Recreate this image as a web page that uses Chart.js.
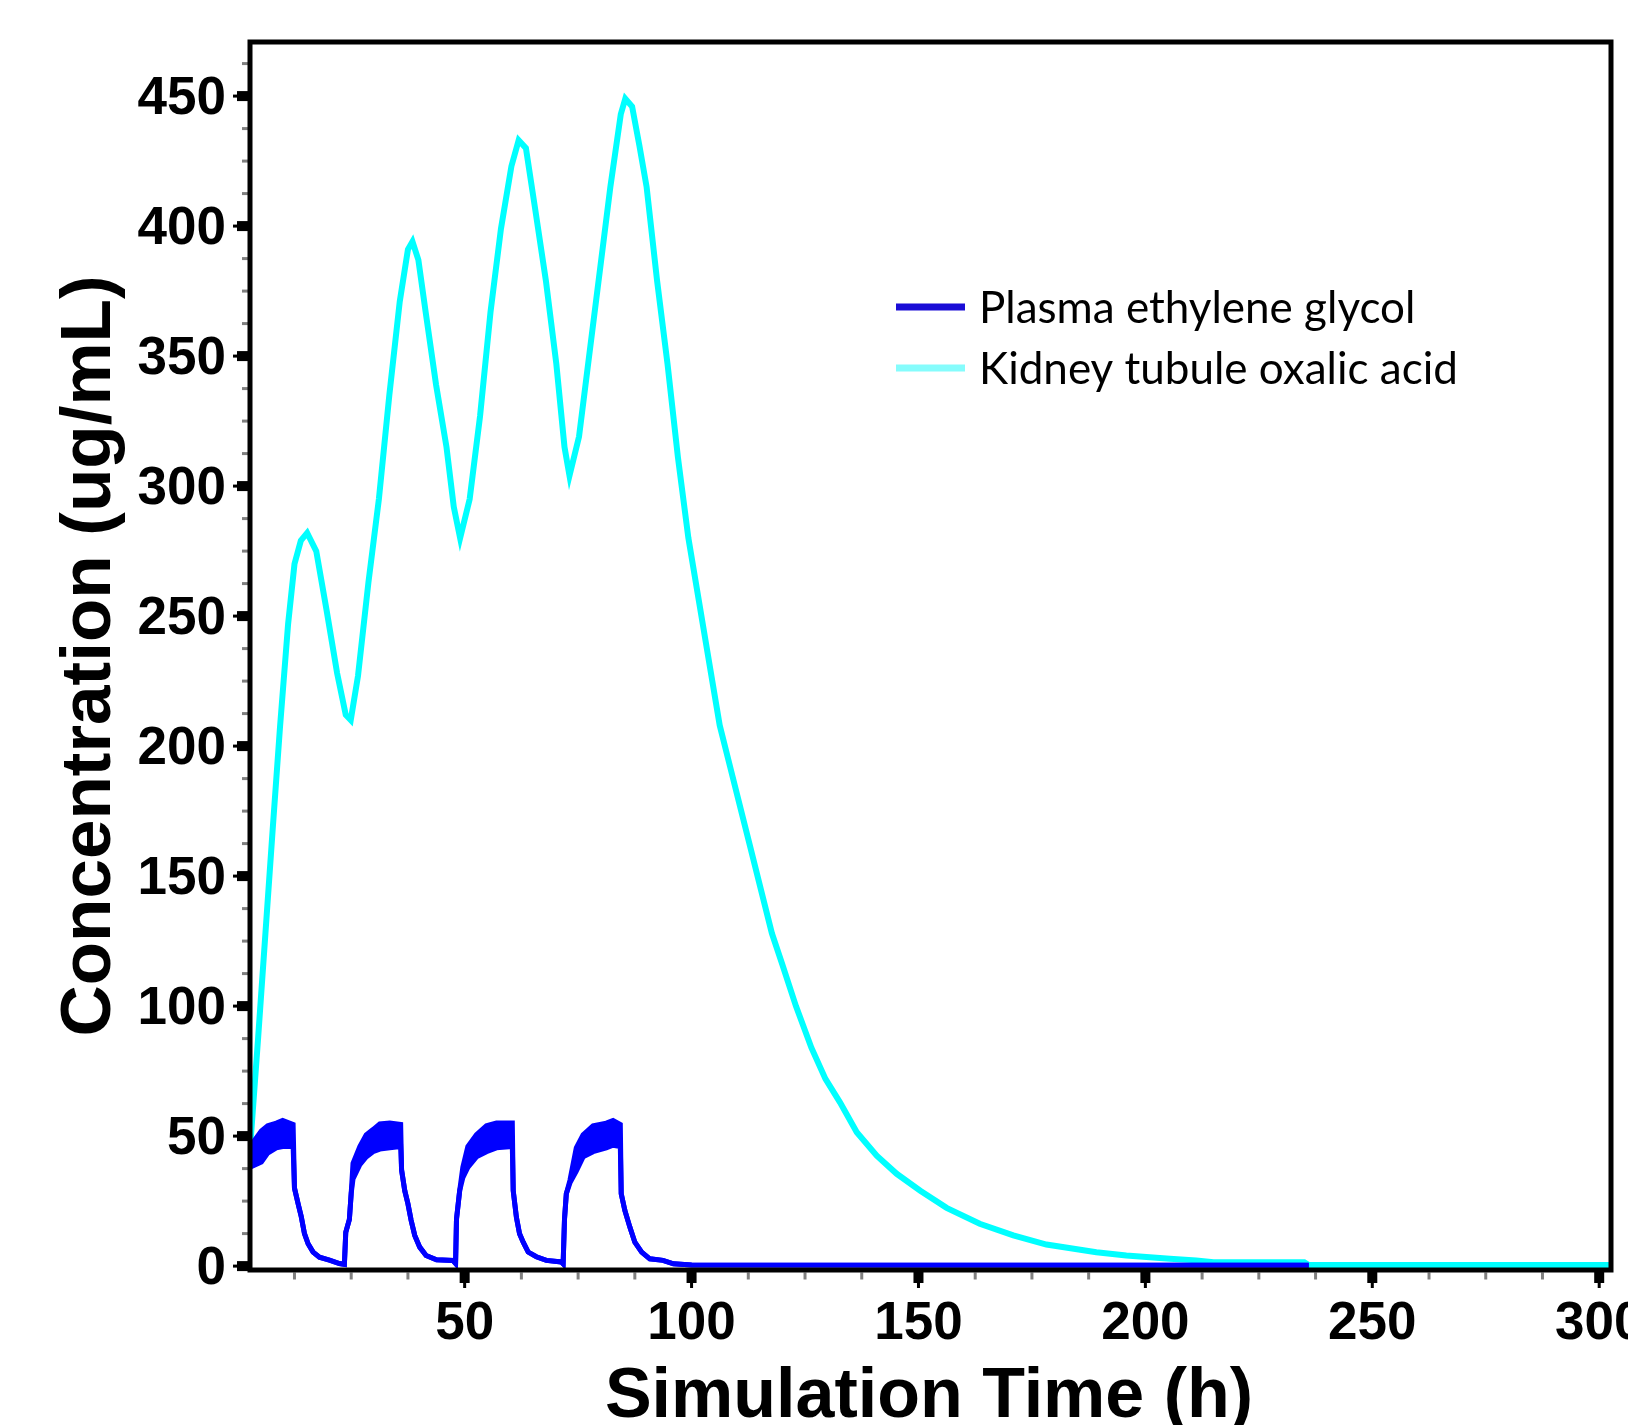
<!DOCTYPE html>
<html>
<head>
<meta charset="utf-8">
<script src="https://cdn.jsdelivr.net/npm/chart.js@4"></script>
<style>
  html, body { margin: 0; padding: 0; background: #fff; }
  #wrap { width: 1628px; height: 1425px; }
</style>
</head>
<body>
<div id="wrap"><canvas id="concChart" width="1628" height="1425"></canvas></div>
<script>
// Plasma ethylene glycol: time (h), upper and lower edge of the dosing band (ug/mL)
const plasmaTime = [2.7, 5.2, 6.6, 8.5, 9.9, 12.2, 12.5, 13.3, 14.0, 14.7, 15.5, 16.6, 18.0, 20.2, 22.4, 23.5,
  23.8, 24.6, 25.0, 25.4, 26.9, 28.3, 29.8, 31.3, 33.5, 35.9, 36.1, 36.8, 37.5, 38.2, 39.0, 40.1, 41.5, 43.8, 47.4, 48.0,
  48.2, 48.9, 49.6, 50.7, 52.6, 54.8, 57.0, 60.5, 60.7, 61.4, 62.1, 62.9, 64.0, 65.8, 68.0, 71.3, 71.7,
  72.0, 72.4, 73.2, 74.6, 76.1, 78.3, 81.2, 82.7, 84.3, 84.5, 85.3, 86.4, 87.5, 89.0, 90.8, 93.7, 96.0, 100, 236];
const plasmaHigh = [46, 52, 54, 55, 56, 54.5, 30, 24, 19, 12.5, 8.6, 5.4, 3.4, 2.3, 1.0, 0.7,
  13, 18, 28, 39.5, 46, 50.5, 52.5, 54.7, 55, 54.5, 37, 29, 24, 17.6, 11.8, 7.3, 4.1, 2.4, 2.2, 1.0,
  18, 29, 38, 46, 50.5, 54, 55, 55, 29, 18.8, 12.4, 9.2, 5.4, 3.6, 2.2, 1.6, 0.9,
  18, 27.8, 33, 45.5, 50.5, 54, 55, 56, 54.5, 27.8, 21.4, 15, 9.2, 5.4, 2.8, 2.2, 0.9, 0.4, 0.3];
const plasmaLow = [38, 40, 43.5, 45.5, 46, 46, 30, 24, 19, 12.5, 8.6, 5.4, 3.4, 2.3, 1.0, 0.7,
  13, 18, 28, 33.5, 39, 42, 44, 45, 45.5, 46, 37, 29, 24, 17.6, 11.8, 7.3, 4.1, 2.4, 2.2, 1.0,
  18, 29, 34, 38, 42, 44, 45.5, 46, 29, 18.8, 12.4, 9.2, 5.4, 3.6, 2.2, 1.6, 0.9,
  18, 27.8, 32, 36.5, 42, 44, 45.5, 46.5, 46, 27.8, 21.4, 15, 9.2, 5.4, 2.8, 2.2, 0.9, 0.4, 0.3];

// Kidney tubule oxalic acid: time (h), concentration (ug/mL)
const kidneyTime = [2.7, 4.5, 6.1, 7.7, 9.3, 11.1, 12.5, 13.9, 15.3, 17.3, 19.6, 21.9, 23.8, 24.9,
  26.5, 28.8, 31.1, 33.4, 35.7, 37.5, 38.5, 39.8, 41.4, 43.7, 46.0, 47.6, 49.0,
  51.1, 53.4, 55.7, 58.0, 60.3, 61.9, 63.5, 65.5, 67.9, 70.2, 72.0, 73.1,
  75.2, 77.5, 79.8, 82.1, 84.4, 85.4, 86.9, 88.5, 90.1, 92.4, 94.7, 97.0, 99.3,
  101.6, 103.9, 106.2, 108.5, 110.8, 113.1, 115.4, 117.7, 120.0, 123.0, 126.4, 129.5, 132.7,
  136.4, 140.8, 145.2, 150.4, 156.2, 163.5, 170.9, 178.2, 189.2, 195.8, 205.4, 211.2, 215, 235, 236, 302.6];
const kidneyConc = [45, 88, 128, 168, 207, 247, 270, 279, 282, 275, 252, 228, 212, 210,
  227, 263, 295, 335, 371, 391, 394, 387, 367, 339, 315, 292, 280,
  295, 327, 367, 399, 423, 433, 430, 407, 379, 347, 315, 304,
  319, 351, 383, 415, 443, 449, 446, 431, 415, 379, 347, 311, 280,
  256, 232, 208, 192, 176, 160, 144, 128, 116, 100, 84, 72, 63,
  51.5, 42.5, 35.5, 29, 22.4, 16.3, 11.8, 8.3, 5.3, 4.1, 2.8, 2.2, 1.5, 1.5, 0.4, 0.4];

const seriesLabels = ['Plasma ethylene glycol', 'Kidney tubule oxalic acid'];
const xTicks = [50, 100, 150, 200, 250, 300];
const yTicks = [0, 50, 100, 150, 200, 250, 300, 350, 400, 450];
const minorStep = 12.5;

const toPoints = (xs, ys) => xs.map((t, i) => ({ x: t, y: ys[i] }));

// axes, frame, titles and legend drawn by hand, positions taken from the scales
const framePlugin = {
  id: 'plotFrame',
  afterDatasetsDraw(chart) {
    const { ctx, chartArea: a, scales: { x, y } } = chart;
    ctx.save();

    // minor ticks
    ctx.fillStyle = '#808080';
    for (let v = minorStep; v <= x.max; v += minorStep) {
      if (v < x.min || v % 50 === 0) continue;
      const px = x.getPixelForValue(v);
      ctx.fillRect(px - 1.5, a.bottom + 2.5, 3, 7);
    }
    for (let v = minorStep; v <= y.max; v += minorStep) {
      if (v % 50 === 0) continue;
      const py = y.getPixelForValue(v);
      ctx.fillRect(a.left - 8, py - 1.5, 6, 3);
    }

    // frame
    ctx.strokeStyle = '#000';
    ctx.lineWidth = 5;
    ctx.strokeRect(a.left, a.top, a.right - a.left, a.bottom - a.top);

    // major ticks
    ctx.fillStyle = '#000';
    xTicks.forEach(v => {
      const px = x.getPixelForValue(v);
      ctx.fillRect(px - 5, a.bottom, 10, 13);
      ctx.fillRect(px - 1.5, a.bottom + 13, 3, 5);
    });
    yTicks.forEach(v => {
      const py = y.getPixelForValue(v);
      ctx.fillRect(a.left - 13, py - 5, 13, 10);
      ctx.fillRect(a.left - 17, py - 1.5, 4, 3);
    });

    // tick labels
    ctx.font = 'bold 53px "Liberation Sans", Arial, sans-serif';
    ctx.textBaseline = 'alphabetic';
    ctx.textAlign = 'right';
    yTicks.forEach(v => {
      ctx.fillText(String(v), 226, y.getPixelForValue(v) + 18);
    });
    ctx.textAlign = 'center';
    xTicks.forEach(v => {
      ctx.fillText(String(v), x.getPixelForValue(v), 1339);
    });

    // axis titles
    ctx.font = 'bold 70px "Liberation Sans", Arial, sans-serif';
    ctx.fillText('Simulation Time (h)', 929, 1417);
    ctx.save();
    ctx.translate(110, (a.top + a.bottom) / 2);
    ctx.rotate(-Math.PI / 2);
    ctx.font = 'bold 71px "Liberation Sans", Arial, sans-serif';
    ctx.fillText('Concentration (ug/mL)', 0, 0);
    ctx.restore();

    // legend
    const legendColors = ['#1a0dd6', '#85fcfc'];
    ctx.font = '44px Lato, "Open Sans", sans-serif';
    ctx.textAlign = 'left';
    seriesLabels.forEach((label, i) => {
      const ly = 307 + i * 61;
      ctx.fillStyle = legendColors[i];
      ctx.fillRect(896, ly - 3.5, 69, 7);
      ctx.fillStyle = '#000';
      ctx.fillText(label, 979, ly + 16);
    });

    ctx.restore();
  }
};

const ctx = document.getElementById('concChart').getContext('2d');
const concChart = new Chart(ctx, {
  type: 'line',
  data: {
    datasets: [
      {
        label: seriesLabels[0],
        data: toPoints(plasmaTime, plasmaHigh),
        borderColor: '#0000ff',
        backgroundColor: '#0000ff',
        borderWidth: 5,
        pointRadius: 0,
        fill: '+1',
        order: 0
      },
      {
        label: 'plasma band low',
        data: toPoints(plasmaTime, plasmaLow),
        borderColor: '#0000ff',
        borderWidth: 5,
        pointRadius: 0,
        fill: false,
        order: 0
      },
      {
        label: seriesLabels[1],
        data: toPoints(kidneyTime, kidneyConc),
        borderColor: '#00ffff',
        borderWidth: 6,
        pointRadius: 0,
        fill: false,
        order: 1
      }
    ]
  },
  options: {
    responsive: false,
    animation: false,
    layout: { padding: { left: 250, right: 17, top: 42, bottom: 155 } },
    scales: {
      x: { type: 'linear', min: 2.7, max: 302.6, display: false },
      y: { type: 'linear', min: -1.5, max: 470.8, display: false }
    },
    plugins: {
      legend: { display: false },
      tooltip: { enabled: false }
    }
  },
  plugins: [framePlugin]
});
</script>
</body>
</html>
